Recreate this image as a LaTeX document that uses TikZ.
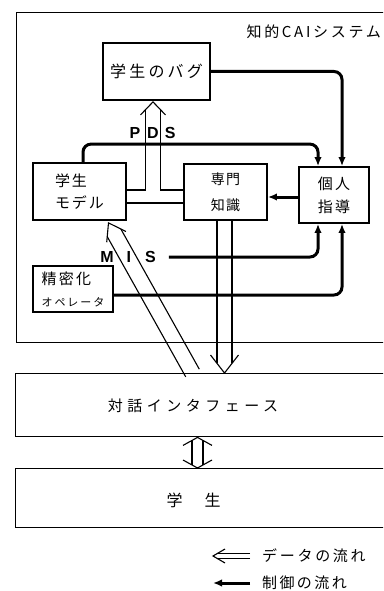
\documentclass[tikz,border=0pt]{standalone}
\usepackage{fontspec}
\setmainfont{Noto Sans CJK JP}
\newfontfamily\latb{Liberation Sans}
\usetikzlibrary{arrows.meta,calc}
\tikzset{
  box/.style={draw,line width=1.8pt,inner sep=0pt,align=center},
  wide/.style={draw,line width=1.4pt,inner sep=0pt,anchor=north west,minimum width=400pt},
  ctrl/.style={line width=3pt,rounded corners=8pt,-{Latex[length=9pt,width=7.5pt]}},
  thinl/.style={line width=1.1pt},
  lbl/.style={inner sep=0pt},
  latlbl/.style={inner sep=0pt,font=\latb\bfseries\fontsize{16}{16}\selectfont},
}
\newcommand{\hollowarr}[5]{% tail, tip, half width, head half width, head length
  \pgfmathsetlengthmacro\hsL{#5*#3/#4}%
  \coordinate (hS) at ($(#2)!\hsL!(#1)$);
  \coordinate (hH) at ($(#2)!#5pt!(#1)$);
  \draw[thinl] ($(#1)!#3pt!90:(#2)$) -- ($(hS)!#3pt!90:(#2)$);
  \draw[thinl] ($(#1)!#3pt!-90:(#2)$) -- ($(hS)!#3pt!-90:(#2)$);
  \draw[thinl,line join=miter] ($(hH)!#4pt!90:(#2)$) -- (#2) -- ($(hH)!#4pt!-90:(#2)$);
}
\begin{document}
\begin{tikzpicture}[x=1pt,y=-1pt]
\useasboundingbox (0,0) rectangle (383,591);
\clip (0,0) rectangle (383,591);

% system frame
\node[wide,minimum height=330pt] (sys) at (16,12) {};
\node[lbl,anchor=east,font=\fontsize{15}{16}\selectfont\addfontfeature{LetterSpace=18}] (systitle) at (381,32) {知的CAIシステム};

% boxes
\node[box,minimum width=107pt,minimum height=57pt,font=\fontsize{16}{18}\selectfont\addfontfeature{LetterSpace=20}] (bug) at (156.5,71.5) {学生のバグ};
\node[box,minimum width=93pt,minimum height=57pt,align=left,font=\fontsize{15}{22}\selectfont\addfontfeature{LetterSpace=12}] (smodel) at (79.5,191.5) {学生\\モデル};
\node[box,minimum width=83pt,minimum height=56pt,font=\fontsize{14}{26}\selectfont\addfontfeature{LetterSpace=8}] (exp) at (225.5,192) {専門\\知識};
\node[box,minimum width=70pt,minimum height=56pt,font=\fontsize{15}{23}\selectfont\addfontfeature{LetterSpace=15}] (tutor) at (334,195) {個人\\指導};
\node[box,minimum width=80pt,minimum height=46pt,align=left,font=\fontsize{15}{22}\selectfont\addfontfeature{LetterSpace=15}] (refine) at (73,289) {精密化\\{\fontsize{11}{12}\selectfont\addfontfeature{LetterSpace=18}オペレータ}};

\node[wide,minimum height=63pt] (dlgbox) at (15,373) {};
\node[lbl,font=\fontsize{15}{18}\selectfont\addfontfeature{LetterSpace=30}] (dlg) at (193,406) {対話インタフェース};
\node[wide,minimum height=59pt] (studbox) at (15,468) {};
\node[lbl,font=\fontsize{16}{18}\selectfont] (stud) at (193.5,500) {学\hspace{22pt}生};

% labels
\node[latlbl] (pds) at (152.5,133) {P\hspace{7pt}D\hspace{6pt}S};
\node[latlbl] (mis) at (128,257) {M\hspace{13pt}I\hspace{14pt}S};
\coordinate (misstart) at ($(mis.east)+(13,0)$);

% control flow
\draw[ctrl] (bug.east) -| ($(tutor.north)+(8,0)$);
\draw[ctrl] ($(smodel.north)+(3.5,0)$) -- ++(0,-18) -| ($(tutor.north)+(-16,0)$);
\draw[ctrl] ($(tutor.west)+(0,2)$) -- ($(exp.east)+(0,5)$);
\draw[ctrl] (misstart) -| ($(tutor.south)+(-16,0)$);
\draw[ctrl] ($(refine.east)+(0,6)$) -| ($(tutor.south)+(8,0)$);

% PDS data conduit
\coordinate (pdsTip) at ($(bug.south)+(-3.5,1)$);
\coordinate (pL) at ($(pdsTip)+(-7.5,8)$);
\coordinate (pR) at ($(pdsTip)+(7.5,8)$);
\coordinate (pU) at ($(smodel.east)+(0,-1.5)$);
\coordinate (pD) at ($(smodel.east)+(0,11.5)$);
\draw[thinl] (pU) -| (pL);
\draw[thinl] (pR) |- (exp.west |- pU);
\draw[thinl] (pD) -- (pD -| exp.west);
\draw[thinl,line join=miter] ($(pdsTip)+(-12.5,13)$) -- (pdsTip) -- ($(pdsTip)+(12.5,13)$);

% diagonal data arrow: dialogue -> student model
\coordinate (dTail) at ($(dlgbox.north west)+(177.5,0)$);
\coordinate (dTip) at ($(smodel.south)+(29,2)$);
\hollowarr{dTail}{dTip}{7.8}{11}{16}

% expert -> dialogue
\coordinate (vTail) at ($(exp.south)+(-1,0)$);
\coordinate (vTip) at (vTail |- dlgbox.north);
\hollowarr{vTail}{vTip}{7.5}{14}{18}

% dialogue <-> student
\coordinate (bTop) at ($(dlgbox.south west)+(182.5,0)$);
\coordinate (bBot) at (bTop |- studbox.north);
\coordinate (bMid) at ($(bTop)!0.5!(bBot)$);
\hollowarr{bMid}{bTop}{5.5}{14.5}{8}
\hollowarr{bMid}{bBot}{5.5}{14.5}{8}

% legend
\node[lbl,anchor=west,font=\fontsize{15}{16}\selectfont\addfontfeature{LetterSpace=18}] (lgd1) at (262,556) {データの流れ};
\node[lbl,anchor=west,font=\fontsize{15}{16}\selectfont\addfontfeature{LetterSpace=16}] (lgd2) at (262,583) {制御の流れ};
\coordinate (l1tail) at ($(lgd1.west)+(-12,0)$);
\coordinate (l1tip) at ($(lgd1.west)+(-49,0)$);
\hollowarr{l1tail}{l1tip}{2.5}{7}{12}
\coordinate (l2tail) at ($(lgd2.west)+(-12,0)$);
\coordinate (l2tip) at ($(lgd2.west)+(-49,0)$);
\draw[ctrl] (l2tail) -- (l2tip);
\end{tikzpicture}
\end{document}
